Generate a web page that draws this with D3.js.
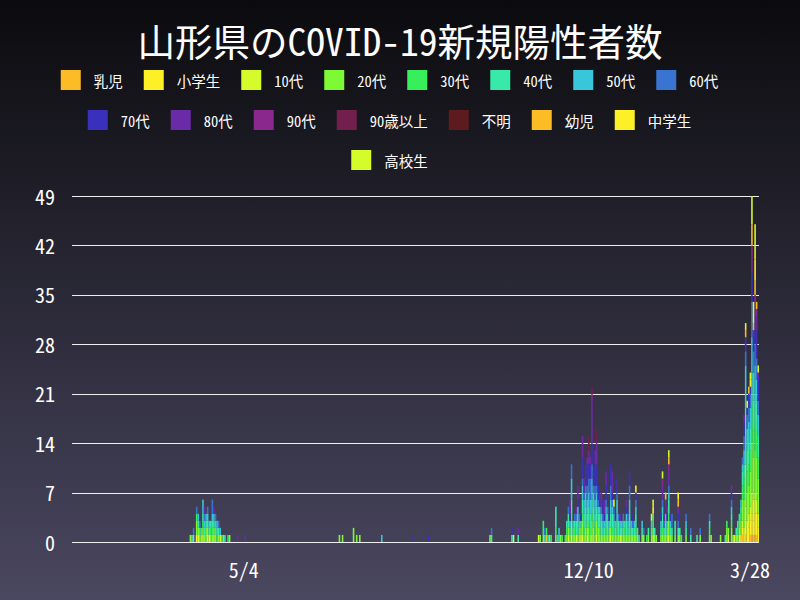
<!DOCTYPE html>
<html><head><meta charset="utf-8">
<script src="https://cdn.jsdelivr.net/npm/d3@7"></script>
<style>html,body{margin:0;padding:0;background:#000;}svg{display:block;}</style>
</head><body>
<svg id="chart" width="800" height="600"></svg>
<script>
const titleText = "山形県のCOVID-19新規陽性者数";
const seriesNames = ["乳児","小学生","10代","20代","30代","40代","50代","60代","70代","80代","90代","90歳以上","不明","幼児","中学生","高校生"];
const seriesColors = ["#FBBC26","#FEF027","#D5FB2B","#7DF935","#37EF5A","#39E9A9","#37C6DA","#3874D0","#3931BE","#6B2BA8","#8A288E","#731F4D","#5D1B1F","#FBBC26","#FEF027","#D5FB2B"];
const yTickValues = [0,7,14,21,28,35,42,49];
const xTickDates = ["2020-05-04","2020-12-10","2021-03-28"];
const axisStart = "2020-01-16";
const axisEnd = "2021-03-28";

const dates = [
"2020-03-31","2020-04-01","2020-04-02","2020-04-03","2020-04-04","2020-04-05","2020-04-06","2020-04-07","2020-04-08","2020-04-09",
"2020-04-10","2020-04-11","2020-04-12","2020-04-13","2020-04-14","2020-04-15","2020-04-16","2020-04-17","2020-04-18","2020-04-19",
"2020-04-20","2020-04-21","2020-04-22","2020-04-24","2020-04-25","2020-04-30","2020-05-05","2020-07-04","2020-07-06","2020-07-13",
"2020-07-15","2020-07-17","2020-07-31","2020-08-20","2020-08-30","2020-10-08","2020-10-09","2020-10-22","2020-10-23","2020-10-26",
"2020-11-08","2020-11-09","2020-11-11","2020-11-12","2020-11-13","2020-11-14","2020-11-15","2020-11-16","2020-11-19","2020-11-20",
"2020-11-21","2020-11-22","2020-11-23","2020-11-25","2020-11-26","2020-11-27","2020-11-28","2020-11-29","2020-11-30","2020-12-01",
"2020-12-02","2020-12-03","2020-12-04","2020-12-05","2020-12-06","2020-12-07","2020-12-08","2020-12-09","2020-12-10","2020-12-11",
"2020-12-12","2020-12-13","2020-12-14","2020-12-15","2020-12-16","2020-12-17","2020-12-18","2020-12-19","2020-12-20","2020-12-21",
"2020-12-22","2020-12-23","2020-12-24","2020-12-25","2020-12-26","2020-12-27","2020-12-28","2020-12-29","2020-12-30","2020-12-31",
"2021-01-01","2021-01-02","2021-01-03","2021-01-04","2021-01-05","2021-01-06","2021-01-07","2021-01-08","2021-01-09","2021-01-10",
"2021-01-11","2021-01-13","2021-01-14","2021-01-16","2021-01-17","2021-01-19","2021-01-20","2021-01-21","2021-01-22","2021-01-25",
"2021-01-26","2021-01-27","2021-01-28","2021-01-29","2021-01-30","2021-01-31","2021-02-01","2021-02-03","2021-02-05","2021-02-06",
"2021-02-07","2021-02-10","2021-02-13","2021-02-17","2021-02-19","2021-02-25","2021-02-26","2021-03-04","2021-03-07","2021-03-08",
"2021-03-09","2021-03-11","2021-03-12","2021-03-13","2021-03-14","2021-03-15","2021-03-16","2021-03-17","2021-03-18","2021-03-19",
"2021-03-20","2021-03-21","2021-03-22","2021-03-23","2021-03-24","2021-03-25","2021-03-26","2021-03-27","2021-03-28"
];

const infant = [
0,0,1,0,0,0,0,0,0,0, 0,0,0,0,0,0,0,0,0,0, 0,0,0,0,0,0,0,0,0,0, 0,0,0,0,0,0,0,0,0,0,
0,0,0,0,1,0,0,0,0,0, 0,0,0,0,0,0,0,0,0,0, 0,0,0,0,0,0,0,0,0,0, 0,0,0,0,0,0,0,0,0,0,
0,0,0,0,0,0,0,0,0,0, 0,0,0,0,0,0,0,0,0,0, 0,0,0,0,0,0,0,0,0,0, 0,0,0,0,0,0,0,0,0,0,
0,0,0,0,0,0,0,0,0,0, 0,0,0,0,0,0,0,0,1,0, 1,0,0,1,1,1,1,1,0];
const elementary = [
0,0,0,0,1,0,0,0,0,0, 0,1,0,0,0,0,0,0,0,0, 0,0,0,0,0,0,0,0,0,0, 0,0,0,0,0,0,0,0,0,0,
0,0,0,0,0,0,0,0,0,0, 0,0,0,0,0,0,0,0,0,0, 0,0,0,1,0,0,0,0,0,0, 0,0,0,0,0,0,0,0,0,0,
0,0,0,0,0,0,0,0,0,0, 0,0,0,0,0,0,0,0,0,0, 0,0,0,0,0,0,0,0,0,0, 0,0,0,0,0,0,0,0,0,0,
0,0,0,0,0,0,0,0,0,0, 0,0,0,0,0,0,0,1,1,1, 2,1,2,2,3,2,3,3,2];
const age10 = [
0,0,0,0,0,1,0,0,1,0, 0,0,1,0,0,1,0,0,0,1, 0,0,0,0,0,0,0,0,0,0, 0,0,0,0,0,0,0,0,1,0,
1,0,0,0,0,0,0,0,0,0, 0,0,0,0,0,1,0,1,0,0, 1,0,0,0,1,0,0,1,0,0, 1,0,0,1,0,0,0,0,0,0,
0,0,1,0,0,0,0,0,1,0, 0,0,0,0,0,0,0,0,0,0, 0,0,0,0,0,0,1,0,0,0, 0,0,0,0,1,0,0,0,0,0,
0,0,0,0,0,0,0,0,0,0, 1,0,0,1,0,0,1,0,1,1, 2,2,2,2,3,3,3,2,2];
const age20 = [
1,0,0,0,2,1,1,1,1,1, 2,1,0,1,1,1,1,0,1,0, 0,1,0,0,1,0,0,1,1,2, 1,1,0,0,0,1,0,0,0,0,
0,1,1,0,0,0,1,0,1,0, 0,1,0,0,1,1,1,2,1,1, 0,1,1,1,2,1,2,1,2,1, 2,2,1,2,2,1,1,1,1,1,
1,1,1,1,1,1,1,1,0,1, 1,1,1,1,1,1,1,1,1,1, 0,1,1,0,1,1,1,1,1,1, 1,1,1,1,2,1,1,1,1,1,
0,1,0,0,1,1,1,1,0,2, 1,2,1,0,1,1,1,2,3,4, 6,4,4,5,7,6,6,6,5];
const age30 = [
0,0,0,0,1,0,0,1,1,0, 0,0,0,1,1,0,0,1,0,0, 1,0,0,1,0,0,0,0,0,0, 0,0,0,0,0,0,0,0,0,0,
0,0,2,0,1,0,0,1,1,0, 0,0,1,1,1,0,0,1,0,1, 0,1,0,0,1,1,1,0,1,1, 1,1,1,0,0,1,0,0,0,1,
0,0,0,1,0,0,1,0,0,0, 0,1,0,0,1,0,0,0,1,0, 0,0,0,1,0,0,1,0,0,0, 1,0,0,0,1,0,0,0,0,0,
1,0,0,0,0,1,0,0,0,1, 0,1,0,0,0,1,1,1,2,3, 4,3,3,3,5,4,4,4,3];
const age40 = [
0,1,0,0,0,1,1,0,1,1, 1,1,1,1,1,1,1,1,1,0, 0,0,1,0,0,0,0,0,0,0, 0,0,0,0,0,0,1,1,0,1,
0,0,0,1,0,1,0,0,3,0, 1,0,0,0,1,2,1,2,1,1, 2,2,1,1,2,2,2,2,2,2, 2,2,2,2,2,2,2,1,1,2,
2,1,2,2,2,1,2,2,1,1, 1,1,2,1,2,1,1,1,2,1, 1,1,0,0,1,1,1,1,0,1, 2,1,2,1,2,1,1,2,1,1,
0,1,1,1,0,1,0,0,1,0, 0,1,0,0,1,1,1,1,2,2, 4,3,3,3,5,4,4,4,3];
const age50 = [
0,0,0,0,0,1,0,0,2,1, 1,1,1,0,1,1,1,1,0,1, 0,0,0,0,0,0,0,0,0,0, 0,0,1,0,0,0,0,0,0,0,
0,0,0,0,0,0,0,0,0,1, 1,0,0,0,0,0,1,3,1,0, 0,1,1,0,2,2,2,2,2,2, 3,2,2,2,1,1,1,1,1,1,
1,1,2,1,1,1,2,0,1,1, 1,0,1,1,2,1,0,1,1,0, 0,1,0,0,0,1,0,0,0,1, 1,0,1,1,1,1,0,0,0,0,
0,1,0,0,0,0,0,0,0,0, 0,1,0,0,0,0,0,1,1,2, 6,3,3,3,5,4,4,3,3];
const age60 = [
0,0,1,1,1,0,1,0,0,1, 0,1,0,0,2,0,1,0,1,0, 0,0,0,0,0,0,0,0,0,0, 0,0,0,0,0,0,1,0,0,0,
0,0,0,1,0,0,0,0,0,0, 0,0,0,0,0,1,0,2,0,1, 1,0,1,0,1,1,1,2,2,3, 2,1,2,1,1,0,1,1,0,1,
1,0,2,1,1,0,1,1,0,0, 1,0,0,1,2,0,1,0,1,0, 0,0,1,0,0,0,0,0,0,0, 1,1,0,0,1,0,2,0,1,0,
0,1,1,0,1,1,0,0,0,0, 0,1,0,0,0,0,0,0,1,2, 2,2,2,2,5,3,3,3,2];
const age70 = [
0,0,0,0,0,0,0,0,0,0, 0,0,0,0,0,0,0,0,0,0, 0,0,0,0,0,0,0,0,0,0, 0,0,0,1,1,0,0,1,0,0,
0,0,0,0,0,0,0,0,0,0, 0,0,0,0,0,0,1,0,0,0, 0,1,0,1,3,0,3,3,2,2, 3,2,3,3,2,1,0,2,1,2,
0,1,3,1,0,1,2,0,0,0, 0,0,1,0,2,0,1,0,1,0, 0,0,0,0,0,0,0,0,0,1, 0,0,1,1,0,1,0,0,1,0,
0,0,0,0,0,0,0,0,0,0, 0,1,0,0,0,0,0,0,0,2, 2,1,2,1,4,2,4,4,3];
const age80 = [
0,0,0,0,0,0,0,0,0,1, 0,0,0,0,0,1,0,0,0,0, 0,0,0,0,0,1,1,0,0,0, 0,0,0,0,0,0,0,0,0,1,
0,0,0,0,0,0,0,0,0,0, 0,0,0,0,0,0,2,0,0,0, 1,2,0,0,3,2,0,1,2,1, 6,0,2,3,0,1,2,0,2,2,
0,0,0,3,0,0,0,0,1,0, 0,0,1,0,0,0,0,0,0,0, 0,0,0,0,0,0,0,0,0,0, 2,1,1,0,2,0,0,0,1,0,
0,0,0,0,0,0,0,0,0,0, 0,1,0,0,0,0,0,0,0,1, 0,0,0,0,2,1,2,2,1];
const age90 = [
0,0,0,0,0,0,0,0,0,0, 0,0,0,0,0,0,0,0,0,0, 0,0,0,0,0,0,0,0,0,0, 0,0,0,0,0,0,0,0,0,0,
0,0,0,0,0,0,0,0,0,0, 0,0,0,0,0,0,0,0,0,0, 0,0,0,0,0,0,0,0,0,0, 1,0,0,0,0,0,0,0,0,0,
0,0,0,0,0,0,0,0,0,0, 0,0,0,0,0,0,0,0,0,0, 0,0,0,0,0,0,0,0,0,0, 1,0,0,1,1,0,0,0,0,0,
0,0,0,0,0,0,0,0,0,0, 0,0,0,0,0,0,0,0,0,0, 0,0,0,0,2,0,1,1,0];
const age90plus = [
0,0,0,0,0,0,0,0,0,0, 0,0,0,0,0,0,0,0,0,0, 0,0,0,0,0,0,0,0,0,0, 0,0,0,0,0,0,0,0,0,0,
0,0,0,0,0,0,0,0,0,0, 0,0,0,0,0,0,0,0,0,0, 0,0,0,0,0,0,0,1,2,0, 1,0,0,2,0,0,0,0,0,0,
0,0,0,0,0,0,0,0,0,0, 0,0,0,0,0,0,0,0,0,0, 0,0,0,0,0,0,0,0,0,0, 0,0,0,0,0,0,0,0,0,0,
0,0,0,0,0,0,0,0,0,0, 0,0,0,0,0,0,0,0,0,0, 0,0,0,0,0,0,0,0,0];
const unknownAge = [
0,0,0,0,0,0,0,0,0,0, 0,0,0,0,0,0,0,0,0,0, 0,0,0,0,0,0,0,0,0,0, 0,0,0,0,0,0,0,0,0,0,
0,0,0,0,0,0,0,0,0,0, 0,0,0,0,0,0,0,0,0,0, 0,0,0,0,0,0,0,0,0,0, 0,0,0,0,0,0,0,0,0,0,
0,0,0,0,0,0,0,0,0,0, 0,0,0,0,0,0,0,0,0,0, 0,0,0,0,0,0,0,0,0,0, 0,0,0,0,0,0,0,0,0,0,
0,0,0,0,0,0,0,0,0,0, 0,0,0,0,0,0,0,0,0,0, 0,0,0,0,0,0,0,0,0];
const toddler = [
0,0,0,0,0,0,0,0,0,0, 0,0,0,0,0,0,0,0,0,0, 0,0,0,0,0,0,0,0,0,0, 0,0,0,0,0,0,0,0,0,0,
0,0,0,0,0,0,0,0,0,0, 0,0,0,0,0,0,0,0,0,0, 0,0,0,0,0,0,0,0,0,0, 0,0,0,0,0,0,0,0,0,0,
0,0,0,0,0,0,0,0,0,0, 0,0,0,0,0,0,0,0,0,0, 0,0,0,0,0,0,0,0,0,0, 0,0,1,0,1,0,0,0,1,0,
0,0,0,0,0,0,0,0,0,0, 0,0,0,0,0,0,0,0,0,0, 1,0,1,0,3,1,2,1,0];
const juniorHigh = [
0,0,0,0,0,0,0,0,0,0, 0,0,0,0,0,0,0,0,0,0, 0,0,0,0,0,0,0,0,0,0, 0,0,0,0,0,0,0,0,0,0,
0,0,0,0,0,0,0,0,0,0, 0,0,0,0,0,0,0,0,0,0, 0,0,0,0,0,0,0,0,0,0, 0,0,0,0,0,0,0,0,0,0,
0,0,0,0,1,0,0,0,0,0, 0,0,0,0,0,0,0,0,1,0, 0,0,0,0,0,0,1,0,0,0, 0,0,0,0,0,0,0,0,1,0,
0,0,0,0,0,0,0,0,0,0, 0,0,0,0,0,0,0,0,0,0, 0,0,0,1,0,1,3,0,0];
const highSchool = [
0,0,0,0,0,0,0,0,0,0, 0,0,0,0,0,0,0,0,0,0, 0,0,0,0,0,0,0,0,0,0, 0,0,0,0,0,0,0,0,0,0,
0,0,0,0,0,0,0,0,0,0, 0,0,0,0,0,0,0,0,0,0, 0,0,0,0,0,0,0,0,0,0, 0,0,0,0,0,0,0,0,0,0,
0,0,0,0,0,0,0,0,0,0, 0,0,0,0,0,0,0,0,0,0, 0,0,0,0,0,1,1,0,0,0, 1,0,0,0,1,0,0,0,0,0,
0,0,0,0,0,0,0,0,0,0, 0,0,0,0,0,0,0,0,0,0, 1,1,0,1,4,2,5,0,1];

const seriesValues = [infant, elementary, age10, age20, age30, age40, age50, age60, age70, age80, age90, age90plus, unknownAge, toddler, juniorHigh, highSchool];

const W = 800, H = 600;
const plot = {left: 72, right: 759, top: 196, bottom: 542};
const FONT = "'Noto Sans Mono CJK JP','Noto Sans CJK JP',monospace";

const svg = d3.select("#chart");
const defs = svg.append("defs");
const grad = defs.append("linearGradient").attr("id","bg").attr("x1",0).attr("y1",0).attr("x2",0).attr("y2",1);
grad.append("stop").attr("offset","0%").attr("stop-color","#0b0b0e");
grad.append("stop").attr("offset","100%").attr("stop-color","#4a4760");
svg.append("rect").attr("width",W).attr("height",H).attr("fill","url(#bg)");

const parseDay = d3.utcParse("%Y-%m-%d");
const fmtDay = d3.utcFormat("%Y-%m-%d");
const fmtTick = d3.utcFormat("%-m/%-d");

const rows = dates.map((d, k) => {
  const r = {date: d};
  seriesNames.forEach((name, j) => { r[name] = seriesValues[j][k] || 0; });
  return r;
});
const stacked = d3.stack().keys(seriesNames)(rows);

const allDays = d3.utcDay.range(parseDay(axisStart), d3.utcDay.offset(parseDay(axisEnd), 1)).map(fmtDay);
const x = d3.scaleBand().domain(allDays).range([plot.left, plot.right]).padding(0);
const y = d3.scaleLinear().domain([0, d3.max(yTickValues)]).range([plot.bottom, plot.top]);

// grid lines
svg.append("g").selectAll("line").data(yTickValues).join("line")
  .attr("x1", plot.left).attr("x2", plot.right)
  .attr("y1", d => Math.round(y(d)) + 0.5).attr("y2", d => Math.round(y(d)) + 0.5)
  .attr("stroke", "#ffffff").attr("stroke-opacity", 0.92).attr("stroke-width", 1)
  .attr("shape-rendering", "crispEdges");

// bars
svg.append("g").selectAll("g").data(stacked).join("g")
  .attr("fill", (d, j) => seriesColors[j])
  .selectAll("rect").data(d => d.filter(p => p[1] > p[0])).join("rect")
  .attr("x", p => x(p.data.date))
  .attr("width", x.bandwidth())
  .attr("y", p => y(p[1]))
  .attr("height", p => y(p[0]) - y(p[1]));

// y axis labels
svg.append("g").selectAll("text").data(yTickValues).join("text")
  .attr("x", 55).attr("y", d => y(d))
  .attr("text-anchor", "end").attr("dominant-baseline", "central")
  .attr("font-family", FONT).attr("font-size", 20).attr("fill", "#ffffff")
  .text(d => d);

// x axis labels
svg.append("g").selectAll("text").data(xTickDates).join("text")
  .attr("x", d => Math.min(x(d) + x.bandwidth() / 2, 750))
  .attr("y", 569)
  .attr("text-anchor", "middle").attr("dominant-baseline", "central")
  .attr("font-family", FONT).attr("font-size", 20).attr("fill", "#ffffff")
  .text(d => fmtTick(parseDay(d)));

// title
svg.append("text").attr("x", 400).attr("y", 39)
  .attr("text-anchor", "middle").attr("dominant-baseline", "central")
  .attr("font-family", FONT).attr("font-size", 37.5).attr("fill", "#ffffff")
  .text(titleText);

// legend
const legendFont = 14.5, box = 20, gap = 13, pad = 21, maxRow = 700;
const measure = svg.append("text").attr("font-family", FONT).attr("font-size", legendFont);
const items = seriesNames.map((name, j) => {
  measure.text(name);
  const tw = measure.node().getComputedTextLength();
  return {name, color: seriesColors[j], tw, w: box + gap + tw + pad};
});
measure.remove();
const rowsL = [];
let cur = [], curW = 0;
items.forEach(it => {
  if (cur.length && curW + it.w > maxRow) { rowsL.push(cur); cur = []; curW = 0; }
  cur.push(it); curW += it.w;
});
if (cur.length) rowsL.push(cur);
const legend = svg.append("g");
rowsL.forEach((row, r) => {
  const total = d3.sum(row, d => d.w);
  let xp = W / 2 - total / 2;
  const cy = 80 + r * 40;
  row.forEach(it => {
    legend.append("rect").attr("x", xp).attr("y", cy - box / 2).attr("width", box).attr("height", box)
      .attr("fill", it.color);
    legend.append("text").attr("x", xp + box + gap).attr("y", cy)
      .attr("dominant-baseline", "central")
      .attr("font-family", FONT).attr("font-size", legendFont).attr("fill", "#ffffff")
      .text(it.name);
    xp += it.w;
  });
});
</script>
</body></html>
